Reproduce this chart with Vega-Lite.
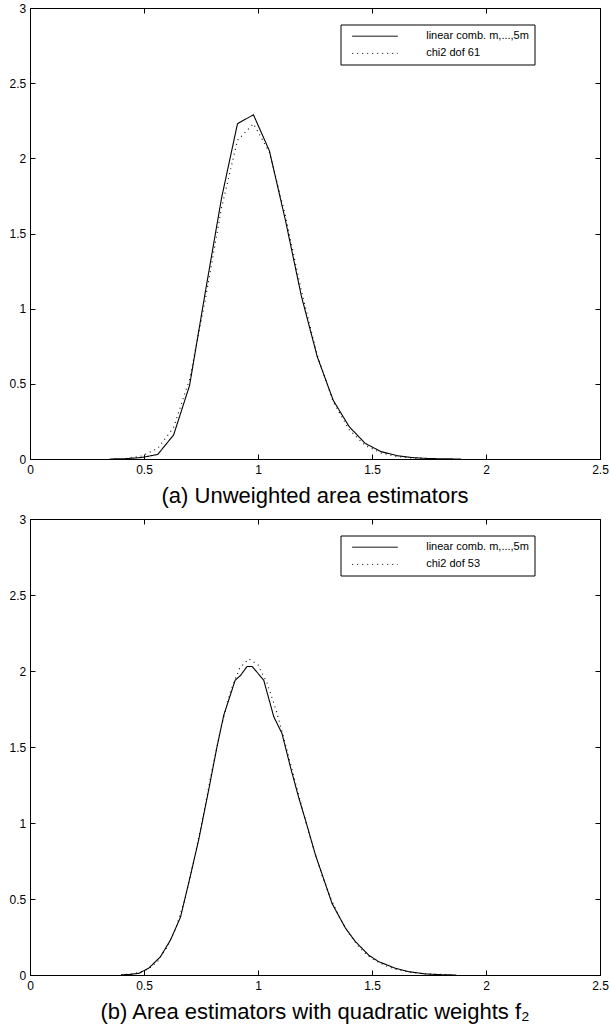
{
  "$schema": "https://vega.github.io/schema/vega-lite/v6.json",
  "padding": {"left": 8, "top": 1, "right": 0, "bottom": 0},
  "background": "#ffffff",
  "datasets": {
    "a": [
      {"x": 0.35, "y": 0, "series": "linear comb. m,...,5m"},
      {"x": 0.42, "y": 0.002, "series": "linear comb. m,...,5m"},
      {"x": 0.49, "y": 0.01, "series": "linear comb. m,...,5m"},
      {"x": 0.56, "y": 0.03, "series": "linear comb. m,...,5m"},
      {"x": 0.63, "y": 0.16, "series": "linear comb. m,...,5m"},
      {"x": 0.70, "y": 0.49, "series": "linear comb. m,...,5m"},
      {"x": 0.77, "y": 1.12, "series": "linear comb. m,...,5m"},
      {"x": 0.84, "y": 1.735, "series": "linear comb. m,...,5m"},
      {"x": 0.91, "y": 2.23, "series": "linear comb. m,...,5m"},
      {"x": 0.98, "y": 2.29, "series": "linear comb. m,...,5m"},
      {"x": 1.05, "y": 2.05, "series": "linear comb. m,...,5m"},
      {"x": 1.12, "y": 1.59, "series": "linear comb. m,...,5m"},
      {"x": 1.19, "y": 1.085, "series": "linear comb. m,...,5m"},
      {"x": 1.26, "y": 0.68, "series": "linear comb. m,...,5m"},
      {"x": 1.33, "y": 0.39, "series": "linear comb. m,...,5m"},
      {"x": 1.40, "y": 0.215, "series": "linear comb. m,...,5m"},
      {"x": 1.47, "y": 0.104, "series": "linear comb. m,...,5m"},
      {"x": 1.54, "y": 0.049, "series": "linear comb. m,...,5m"},
      {"x": 1.61, "y": 0.022, "series": "linear comb. m,...,5m"},
      {"x": 1.68, "y": 0.009, "series": "linear comb. m,...,5m"},
      {"x": 1.75, "y": 0.003, "series": "linear comb. m,...,5m"},
      {"x": 1.82, "y": 0.001, "series": "linear comb. m,...,5m"},
      {"x": 1.89, "y": 0, "series": "linear comb. m,...,5m"},
      {"x": 0.42, "y": 0.003, "series": "chi2 dof 61"},
      {"x": 0.49, "y": 0.02, "series": "chi2 dof 61"},
      {"x": 0.56, "y": 0.07, "series": "chi2 dof 61"},
      {"x": 0.63, "y": 0.21, "series": "chi2 dof 61"},
      {"x": 0.70, "y": 0.53, "series": "chi2 dof 61"},
      {"x": 0.77, "y": 1.07, "series": "chi2 dof 61"},
      {"x": 0.84, "y": 1.67, "series": "chi2 dof 61"},
      {"x": 0.91, "y": 2.12, "series": "chi2 dof 61"},
      {"x": 0.98, "y": 2.23, "series": "chi2 dof 61"},
      {"x": 1.05, "y": 2.04, "series": "chi2 dof 61"},
      {"x": 1.12, "y": 1.62, "series": "chi2 dof 61"},
      {"x": 1.19, "y": 1.12, "series": "chi2 dof 61"},
      {"x": 1.26, "y": 0.69, "series": "chi2 dof 61"},
      {"x": 1.33, "y": 0.38, "series": "chi2 dof 61"},
      {"x": 1.40, "y": 0.195, "series": "chi2 dof 61"},
      {"x": 1.47, "y": 0.09, "series": "chi2 dof 61"},
      {"x": 1.54, "y": 0.04, "series": "chi2 dof 61"},
      {"x": 1.61, "y": 0.016, "series": "chi2 dof 61"},
      {"x": 1.68, "y": 0.006, "series": "chi2 dof 61"},
      {"x": 1.75, "y": 0.002, "series": "chi2 dof 61"}
    ],
    "b": [
      {"x": 0.40, "y": 0.001, "series": "linear comb. m,...,5m"},
      {"x": 0.44, "y": 0.004, "series": "linear comb. m,...,5m"},
      {"x": 0.477, "y": 0.011, "series": "linear comb. m,...,5m"},
      {"x": 0.52, "y": 0.044, "series": "linear comb. m,...,5m"},
      {"x": 0.572, "y": 0.12, "series": "linear comb. m,...,5m"},
      {"x": 0.616, "y": 0.23, "series": "linear comb. m,...,5m"},
      {"x": 0.66, "y": 0.38, "series": "linear comb. m,...,5m"},
      {"x": 0.703, "y": 0.65, "series": "linear comb. m,...,5m"},
      {"x": 0.74, "y": 0.89, "series": "linear comb. m,...,5m"},
      {"x": 0.784, "y": 1.22, "series": "linear comb. m,...,5m"},
      {"x": 0.82, "y": 1.50, "series": "linear comb. m,...,5m"},
      {"x": 0.85, "y": 1.71, "series": "linear comb. m,...,5m"},
      {"x": 0.90, "y": 1.94, "series": "linear comb. m,...,5m"},
      {"x": 0.923, "y": 1.97, "series": "linear comb. m,...,5m"},
      {"x": 0.952, "y": 2.03, "series": "linear comb. m,...,5m"},
      {"x": 0.974, "y": 2.03, "series": "linear comb. m,...,5m"},
      {"x": 1.025, "y": 1.94, "series": "linear comb. m,...,5m"},
      {"x": 1.069, "y": 1.70, "series": "linear comb. m,...,5m"},
      {"x": 1.105, "y": 1.59, "series": "linear comb. m,...,5m"},
      {"x": 1.142, "y": 1.37, "series": "linear comb. m,...,5m"},
      {"x": 1.178, "y": 1.17, "series": "linear comb. m,...,5m"},
      {"x": 1.208, "y": 1.02, "series": "linear comb. m,...,5m"},
      {"x": 1.252, "y": 0.79, "series": "linear comb. m,...,5m"},
      {"x": 1.325, "y": 0.47, "series": "linear comb. m,...,5m"},
      {"x": 1.383, "y": 0.31, "series": "linear comb. m,...,5m"},
      {"x": 1.427, "y": 0.22, "series": "linear comb. m,...,5m"},
      {"x": 1.486, "y": 0.13, "series": "linear comb. m,...,5m"},
      {"x": 1.529, "y": 0.088, "series": "linear comb. m,...,5m"},
      {"x": 1.603, "y": 0.044, "series": "linear comb. m,...,5m"},
      {"x": 1.66, "y": 0.022, "series": "linear comb. m,...,5m"},
      {"x": 1.734, "y": 0.007, "series": "linear comb. m,...,5m"},
      {"x": 1.80, "y": 0.002, "series": "linear comb. m,...,5m"},
      {"x": 1.87, "y": 0, "series": "linear comb. m,...,5m"},
      {"x": 0.40, "y": 0.002, "series": "chi2 dof 53"},
      {"x": 0.44, "y": 0.006, "series": "chi2 dof 53"},
      {"x": 0.48, "y": 0.016, "series": "chi2 dof 53"},
      {"x": 0.52, "y": 0.04, "series": "chi2 dof 53"},
      {"x": 0.56, "y": 0.09, "series": "chi2 dof 53"},
      {"x": 0.60, "y": 0.18, "series": "chi2 dof 53"},
      {"x": 0.64, "y": 0.31, "series": "chi2 dof 53"},
      {"x": 0.68, "y": 0.50, "series": "chi2 dof 53"},
      {"x": 0.72, "y": 0.76, "series": "chi2 dof 53"},
      {"x": 0.76, "y": 1.05, "series": "chi2 dof 53"},
      {"x": 0.80, "y": 1.36, "series": "chi2 dof 53"},
      {"x": 0.84, "y": 1.64, "series": "chi2 dof 53"},
      {"x": 0.88, "y": 1.87, "series": "chi2 dof 53"},
      {"x": 0.92, "y": 2.02, "series": "chi2 dof 53"},
      {"x": 0.96, "y": 2.08, "series": "chi2 dof 53"},
      {"x": 1.00, "y": 2.04, "series": "chi2 dof 53"},
      {"x": 1.04, "y": 1.92, "series": "chi2 dof 53"},
      {"x": 1.08, "y": 1.74, "series": "chi2 dof 53"},
      {"x": 1.12, "y": 1.52, "series": "chi2 dof 53"},
      {"x": 1.16, "y": 1.29, "series": "chi2 dof 53"},
      {"x": 1.20, "y": 1.06, "series": "chi2 dof 53"},
      {"x": 1.24, "y": 0.85, "series": "chi2 dof 53"},
      {"x": 1.28, "y": 0.66, "series": "chi2 dof 53"},
      {"x": 1.32, "y": 0.50, "series": "chi2 dof 53"},
      {"x": 1.36, "y": 0.37, "series": "chi2 dof 53"},
      {"x": 1.40, "y": 0.27, "series": "chi2 dof 53"},
      {"x": 1.44, "y": 0.19, "series": "chi2 dof 53"},
      {"x": 1.48, "y": 0.13, "series": "chi2 dof 53"},
      {"x": 1.52, "y": 0.09, "series": "chi2 dof 53"},
      {"x": 1.56, "y": 0.06, "series": "chi2 dof 53"},
      {"x": 1.60, "y": 0.04, "series": "chi2 dof 53"},
      {"x": 1.64, "y": 0.025, "series": "chi2 dof 53"},
      {"x": 1.68, "y": 0.016, "series": "chi2 dof 53"},
      {"x": 1.72, "y": 0.01, "series": "chi2 dof 53"},
      {"x": 1.76, "y": 0.006, "series": "chi2 dof 53"},
      {"x": 1.80, "y": 0.004, "series": "chi2 dof 53"},
      {"x": 1.84, "y": 0.002, "series": "chi2 dof 53"}
    ]
  },
  "config": {
    "font": "Liberation Sans",
    "view": {"stroke": "#000", "strokeWidth": 1},
    "axis": {
      "grid": false,
      "domainColor": "#000",
      "tickColor": "#000",
      "labelColor": "#000",
      "labelFontSize": 12,
      "labelFont": "Liberation Sans",
      "tickSize": -5,
      "labelFlush": false,
      "labelOverlap": false,
      "title": null
    },
    "legend": {
      "orient": "none",
      "legendX": 310.5,
      "legendY": 16.5,
      "symbolType": "M0,0H7.6",
      "symbolSize": 144,
      "symbolStrokeWidth": 1,
      "symbolStrokeColor": "#000",
      "labelFontSize": 11,
      "labelFont": "Liberation Sans",
      "labelColor": "#000",
      "labelOffset": 67.5,
      "padding": 5.2,
      "rowPadding": 5.2,
      "strokeColor": "#000",
      "fillColor": "#fff",
      "labelLimit": 400,
      "titleOrient": "right",
      "titleFontSize": 11,
      "titlePadding": 0,
      "titleLimit": 400
    }
  },
  "spacing": 4,
  "resolve": {"scale": {"strokeDash": "independent"}, "legend": {"strokeDash": "independent"}},
  "vconcat": [
    {
      "width": 570,
      "height": 451,
      "data": {"name": "a"},
      "title": {"text": "(a) Unweighted area estimators", "orient": "bottom", "fontSize": 22, "fontWeight": "normal", "font": "Liberation Sans", "offset": 11, "color": "#000", "anchor": "middle"},
      "layer": [
        {
          "mark": {"type": "line", "color": "#000", "strokeWidth": 1.1},
          "encoding": {
            "x": {"field": "x", "type": "quantitative", "scale": {"domain": [0, 2.5], "nice": false}, "axis": {"values": [0, 0.5, 1, 1.5, 2, 2.5], "format": "~g", "labelPadding": 10}},
            "y": {"field": "y", "type": "quantitative", "scale": {"domain": [0, 3], "nice": false}, "axis": {"values": [0, 0.5, 1, 1.5, 2, 2.5, 3], "format": "~g", "labelPadding": 9.3}},
            "strokeDash": {"field": "series", "type": "nominal", "scale": {"domain": ["linear comb. m,...,5m", "chi2 dof 61"], "range": [[1, 0], [1, 4]]}, "legend": {"title": "\u00a0\u00a0\u00a0\u00a0\u00a0\u00a0\u00a0\u00a0\u00a0\u00a0\u00a0\u00a0\u00a0\u00a0\u00a0\u00a0"}}
          }
        },
        {
          "mark": {"type": "line", "strokeOpacity": 0},
          "encoding": {
            "x": {"field": "x", "type": "quantitative", "scale": {"domain": [0, 2.5], "nice": false}, "axis": {"orient": "top", "labels": false, "values": [0, 0.5, 1, 1.5, 2, 2.5]}},
            "y": {"field": "y", "type": "quantitative", "scale": {"domain": [0, 3], "nice": false}, "axis": {"orient": "right", "labels": false, "values": [0, 0.5, 1, 1.5, 2, 2.5, 3]}}
          }
        }
      ],
      "resolve": {"axis": {"x": "independent", "y": "independent"}}
    },
    {
      "width": 570,
      "height": 456,
      "data": {"name": "b"},
      "title": {"text": "(b) Area estimators with quadratic weights f₂", "orient": "bottom", "fontSize": 22, "fontWeight": "normal", "font": "Liberation Sans", "offset": 11, "color": "#000", "anchor": "middle"},
      "layer": [
        {
          "mark": {"type": "line", "color": "#000", "strokeWidth": 1.1},
          "encoding": {
            "x": {"field": "x", "type": "quantitative", "scale": {"domain": [0, 2.5], "nice": false}, "axis": {"values": [0, 0.5, 1, 1.5, 2, 2.5], "format": "~g", "labelPadding": 10}},
            "y": {"field": "y", "type": "quantitative", "scale": {"domain": [0, 3], "nice": false}, "axis": {"values": [0, 0.5, 1, 1.5, 2, 2.5, 3], "format": "~g", "labelPadding": 9.3}},
            "strokeDash": {"field": "series", "type": "nominal", "scale": {"domain": ["linear comb. m,...,5m", "chi2 dof 53"], "range": [[1, 0], [1, 4]]}, "legend": {"title": "\u00a0\u00a0\u00a0\u00a0\u00a0\u00a0\u00a0\u00a0\u00a0\u00a0\u00a0\u00a0\u00a0\u00a0\u00a0\u00a0"}}
          }
        },
        {
          "mark": {"type": "line", "strokeOpacity": 0},
          "encoding": {
            "x": {"field": "x", "type": "quantitative", "scale": {"domain": [0, 2.5], "nice": false}, "axis": {"orient": "top", "labels": false, "values": [0, 0.5, 1, 1.5, 2, 2.5]}},
            "y": {"field": "y", "type": "quantitative", "scale": {"domain": [0, 3], "nice": false}, "axis": {"orient": "right", "labels": false, "values": [0, 0.5, 1, 1.5, 2, 2.5, 3]}}
          }
        }
      ],
      "resolve": {"axis": {"x": "independent", "y": "independent"}}
    }
  ]
}
